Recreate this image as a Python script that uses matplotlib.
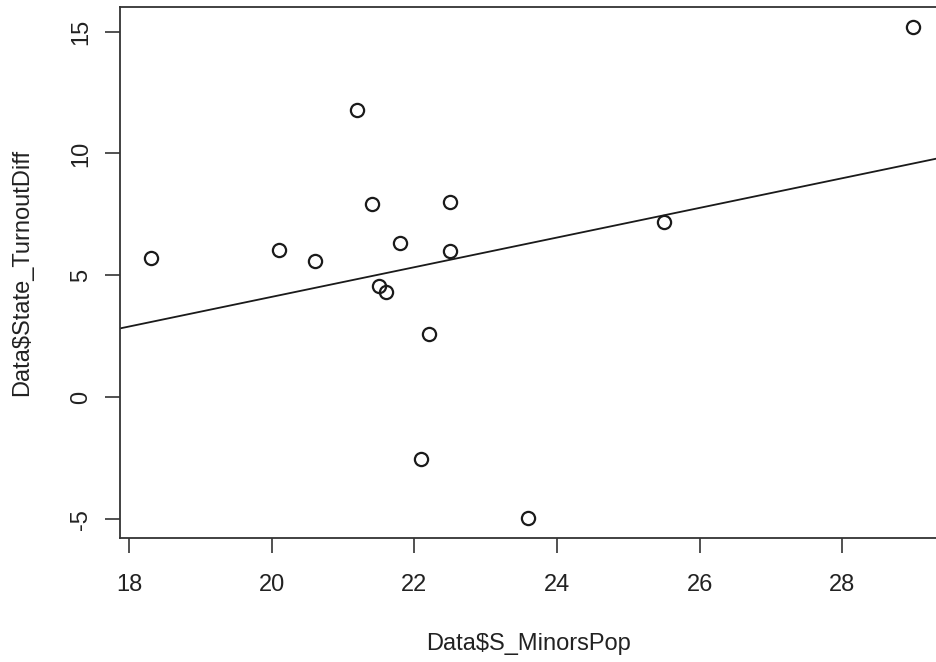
import numpy as np
import matplotlib
matplotlib.use("Agg")
import matplotlib.pyplot as plt

plt.rcParams['font.family'] = ['Liberation Sans', 'DejaVu Sans']

minors_pop = [18.3, 20.1, 20.6, 21.2, 21.4, 21.5, 21.6, 21.8, 22.5, 22.5, 22.2, 22.1, 23.6, 25.5, 29.0]
turnout_diff = [5.72, 6.06, 5.61, 11.79, 7.92, 4.56, 4.32, 6.32, 8.02, 6.02, 2.59, -2.52, -4.95, 7.19, 15.2]
fit_intercept = -8.04
fit_slope = 0.608
x_ticks = [18, 20, 22, 24, 26, 28]
y_ticks = [-5, 0, 5, 10, 15]

W, H = 937, 662
fig = plt.figure(figsize=(W / 100, H / 100), dpi=100)
left, right, top, bottom = 120, 944, 7, 537.7
ax = fig.add_axes([left / W, 1 - bottom / H, (right - left) / W, (bottom - top) / H])

x = np.array(minors_pop)
y = np.array(turnout_diff)
xr = x.max() - x.min()
yr = y.max() - y.min()
ax.set_xlim(x.min() - 0.04 * xr, x.max() + 0.04 * xr)
ax.set_ylim(y.min() - 0.04 * yr, y.max() + 0.04 * yr)

ax.plot(x, y, 'o', mfc='none', mec='#1a1a1a', ms=9.5, mew=1.6, zorder=3)
ax.axline((0, fit_intercept), slope=fit_slope, color='#1a1a1a', lw=1.3, zorder=2)

ax.set_xticks(x_ticks)
ax.set_yticks(y_ticks)
ax.set_xticklabels([str(t) for t in x_ticks])
ax.set_yticklabels([str(t) for t in y_ticks], rotation=90, va='center')
ax.tick_params(axis='both', length=11, width=1.2, color='#333333', labelsize=17, labelcolor='#222222')
ax.tick_params(axis='x', pad=15)
ax.tick_params(axis='y', pad=9)
for s in ax.spines.values():
    s.set_linewidth(1.3)
    s.set_color('#333333')

fig.text(529 / W, 1 - 650 / H, 'Data$S_MinorsPop', ha='center', va='baseline', fontsize=17, color='#222222', parse_math=False)
fig.text(22 / W, 1 - 272 / H, 'Data$State_TurnoutDiff', ha='center', va='center', rotation=90, fontsize=17, color='#222222', parse_math=False)

fig.savefig('out.png', dpi=100)
